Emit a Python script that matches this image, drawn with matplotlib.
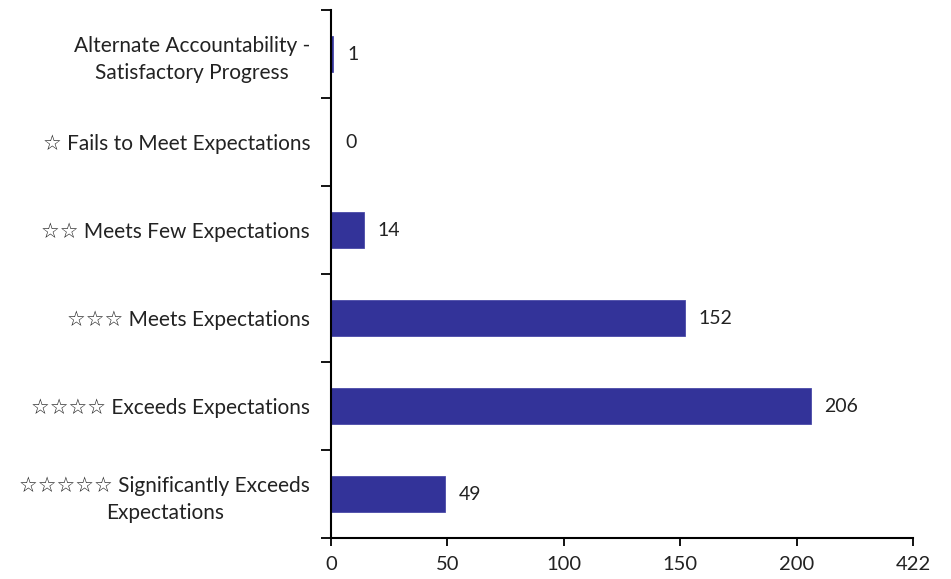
import matplotlib
matplotlib.use("Agg")
import matplotlib.pyplot as plt
import numpy as np

plt.rcParams['font.family'] = ['Lato', 'DejaVu Sans']

categories = [
    "Alternate Accountability -\nSatisfactory Progress",
    "☆ Fails to Meet Expectations",
    "☆☆ Meets Few Expectations",
    "☆☆☆ Meets Expectations",
    "☆☆☆☆ Exceeds Expectations",
    "☆☆☆☆☆ Significantly Exceeds\nExpectations",
]
values = [1, 0, 14, 152, 206, 49]
xticks = [0, 50, 100, 150, 200, 250]
xtick_labels = ["0", "50", "100", "150", "200", "422"]

fig = plt.figure(figsize=(9.51, 5.79), dpi=100)
ax = fig.add_axes([331/951, 1 - 538/579, (913-331)/951, (538-10)/579])

y = np.arange(len(categories))
ax.barh(y, values, height=0.41, color="#333399", edgecolor="#4a4aa8", linewidth=0.6)
ax.set_ylim(len(categories) - 0.5, -0.5)
ax.set_xlim(0, 250)

ax.set_yticks(y)
ax.set_yticklabels(categories, fontsize=15, color="#222222", multialignment="center",
                   linespacing=1.45)
ax.set_yticks(np.arange(-0.5, len(categories) + 0.5, 1), minor=True)
ax.tick_params(axis="y", which="major", length=0, pad=15)
ax.tick_params(axis="y", which="minor", length=7, width=1.3, direction="out", color="black")

ax.set_xticks(xticks)
ax.set_xticklabels(xtick_labels, fontsize=14.5, color="#222222")
ax.tick_params(axis="x", length=6, width=1.3, direction="out", pad=7)

for s in ["top", "right"]:
    ax.spines[s].set_visible(False)
for s in ["left", "bottom"]:
    ax.spines[s].set_linewidth(1.5)

for yi, v in zip(y, values):
    ax.annotate(str(v), xy=(v, yi), xytext=(10, 0), textcoords="offset points",
                va="center", ha="left", fontsize=14, color="#222222")

fig.savefig("out.png", dpi=100)
